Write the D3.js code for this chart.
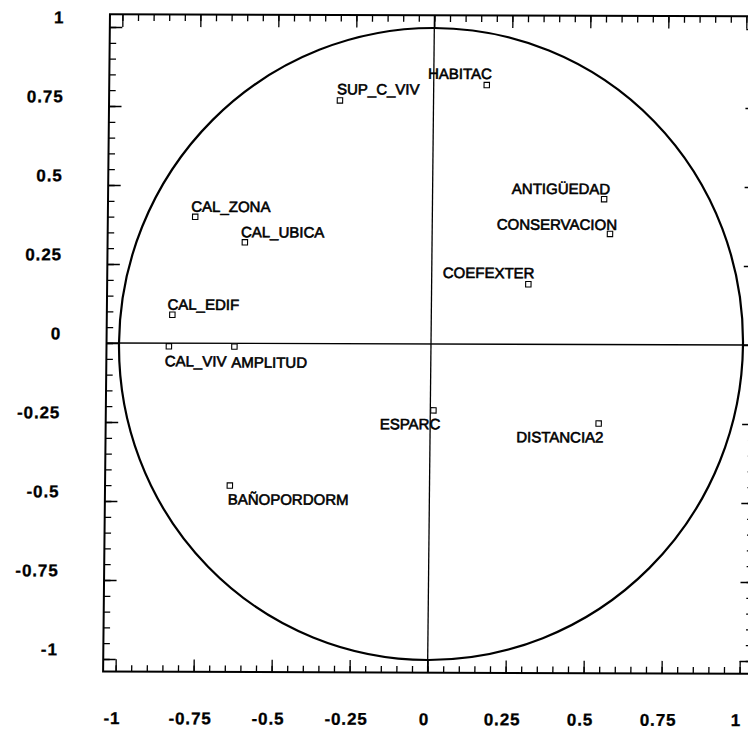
<!DOCTYPE html>
<html><head><meta charset="utf-8">
<script src="https://cdn.jsdelivr.net/npm/d3@7"></script>
<style>html,body{margin:0;padding:0;background:#fff;overflow:hidden}</style>
</head><body>
<svg id="chart" width="748" height="735"></svg>
<script>
// ---- data ----
const variables = ["SUP_C_VIV","HABITAC","ANTIGÜEDAD","CONSERVACION","CAL_ZONA","CAL_UBICA","COEFEXTER","CAL_EDIF","CAL_VIV","AMPLITUD","ESPARC","DISTANCIA2","BAÑOPORDORM"];
const factor1 = [-0.30, 0.17, 0.55, 0.57, -0.76, -0.60, 0.31, -0.83, -0.84, -0.63, 0.01, 0.54, -0.64];
const factor2 = [0.77, 0.82, 0.46, 0.35, 0.40, 0.32, 0.19, 0.09, -0.01, -0.01, -0.21, -0.25, -0.45];
const majorTicks = [-1, -0.75, -0.5, -0.25, 0, 0.25, 0.5, 0.75, 1];
const tickLabels = ["-1", "-0.75", "-0.5", "-0.25", "0", "0.25", "0.5", "0.75", "1"];

// ---- label placement (relative to marker) ----
const placement = {
  "SUP_C_VIV":   {anchor:"start", dx:-3, dy:-6},
  "HABITAC":     {anchor:"end",   dx:5,  dy:-6},
  "ANTIGÜEDAD":  {anchor:"end",   dx:6,  dy:-5},
  "CONSERVACION":{anchor:"end",   dx:7,  dy:-4},
  "CAL_ZONA":    {anchor:"start", dx:-4, dy:-5},
  "CAL_UBICA":   {anchor:"start", dx:-4, dy:-5},
  "COEFEXTER":   {anchor:"end",   dx:6,  dy:-6},
  "CAL_EDIF":    {anchor:"start", dx:-5, dy:-5},
  "CAL_VIV":     {anchor:"start", dx:-4, dy:20},
  "AMPLITUD":    {anchor:"start", dx:-3, dy:21},
  "ESPARC":      {anchor:"end",   dx:7,  dy:19},
  "DISTANCIA2":  {anchor:"end",   dx:5,  dy:19},
  "BAÑOPORDORM": {anchor:"start", dx:-2, dy:19}
};

const svg = d3.select("#chart");
const cx = 431, cy = 344;
const x = d3.scaleLinear().domain([-1, 1]).range([119, 743]);
const y = d3.scaleLinear().domain([-1, 1]).range([660, 28]);
const ext = 1.04;

const g = svg.append("g")
  .attr("transform", `translate(${cx},${cy}) skewX(-0.6) skewY(0.18) translate(${-cx},${-cy})`);

// frame
g.append("rect")
  .attr("x", x(-ext)).attr("y", y(ext))
  .attr("width", x(ext) - x(-ext)).attr("height", y(-ext) - y(ext))
  .attr("fill", "none").attr("stroke", "#000").attr("stroke-width", 2);

// ticks
const minor = x.ticks(40);
function ticks(axisFn, scale, vals, size, tr) {
  const a = g.append("g").attr("transform", tr)
    .call(axisFn(scale).tickValues(vals).tickSize(size).tickFormat(""));
  a.select(".domain").remove();
  a.selectAll("line").attr("stroke", "#000").attr("stroke-width", 1.3);
}
[[majorTicks, 12.5], [minor, 6.5]].forEach(([vals, s]) => {
  ticks(d3.axisRight, y, vals, s, `translate(${x(-ext)},0)`);
  ticks(d3.axisLeft, y, vals, s, `translate(${x(ext)},0)`);
  ticks(d3.axisBottom, x, vals, s, `translate(0,${y(ext)})`);
  ticks(d3.axisTop, x, vals, s, `translate(0,${y(-ext)})`);
});

// axes lines through origin
g.append("line").attr("x1", x(-ext)).attr("x2", x(ext)).attr("y1", y(0)).attr("y2", y(0))
  .attr("stroke", "#000").attr("stroke-width", 1.3);
g.append("line").attr("x1", x(0)).attr("x2", x(0)).attr("y1", y(ext)).attr("y2", y(-ext))
  .attr("stroke", "#000").attr("stroke-width", 1.3);

// correlation circle
g.append("ellipse")
  .attr("cx", x(0)).attr("cy", y(0))
  .attr("rx", x(1) - x(0)).attr("ry", y(0) - y(1))
  .attr("fill", "none").attr("stroke", "#000").attr("stroke-width", 2.2);

// tick labels
const tickFont = {"font-family": "'Liberation Sans', Arial, sans-serif", "font-size": "17px", "font-weight": "bold", "letter-spacing": "0.9px", "stroke": "#000", "stroke-width": 0.3};
const yl = g.append("g").selectAll("text").data(majorTicks).join("text")
  .attr("x", 61).attr("y", d => y(d) - 3.5)
  .attr("text-anchor", "end")
  .text((d, i) => tickLabels[i]);
const xl = g.append("g").selectAll("text").data(majorTicks).join("text")
  .attr("x", d => x(d) - 3).attr("y", 725)
  .attr("text-anchor", "middle")
  .text((d, i) => tickLabels[i]);
[yl, xl].forEach(s => Object.entries(tickFont).forEach(([k, v]) => s.attr(k, v)));

// points
const pts = variables.map((name, i) => ({name, f1: factor1[i], f2: factor2[i]}));
const pg = g.append("g");
pg.selectAll("rect").data(pts).join("rect")
  .attr("x", d => x(d.f1) - 2.7).attr("y", d => y(d.f2) - 2.7)
  .attr("width", 5.4).attr("height", 5.4)
  .attr("fill", "#fff").attr("stroke", "#000").attr("stroke-width", 1.1);
pg.selectAll("text").data(pts).join("text")
  .attr("x", d => x(d.f1) + placement[d.name].dx)
  .attr("y", d => y(d.f2) + placement[d.name].dy)
  .attr("text-anchor", d => placement[d.name].anchor)
  .attr("font-family", "'Liberation Sans', Arial, sans-serif")
  .attr("font-size", "15px")
  .attr("fill", "#000")
  .attr("stroke", "#000").attr("stroke-width", 0.6)
  .text(d => d.name);
</script>
</body></html>
